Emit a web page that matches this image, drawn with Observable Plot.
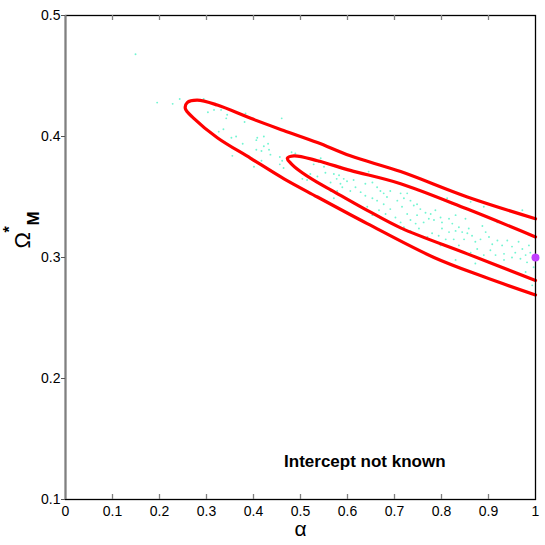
<!DOCTYPE html>
<html>
<head>
<meta charset="utf-8">
<script src="https://cdn.jsdelivr.net/npm/d3@7"></script>
<script src="https://cdn.jsdelivr.net/npm/@observablehq/plot@0.6"></script>
<style>
  html, body { margin: 0; padding: 0; background: #fff; }
</style>
</head>
<body>
<div id="chart"></div>
<script>
// Tick values
const xTicks = [0, 0.1, 0.2, 0.3, 0.4, 0.5, 0.6, 0.7, 0.8, 0.9, 1];
const yTicks = [0.1, 0.2, 0.3, 0.4, 0.5];

// Outer (95%) contour: upper edge from right, through the tip, lower edge to right
const outerAlpha = [1.0, 0.855, 0.713, 0.606, 0.536, 0.464, 0.394, 0.323, 0.280, 0.259, 0.255, 0.273, 0.323, 0.394, 0.465, 0.536, 0.642, 0.784, 0.890, 1.0];
const outerOmega = [0.332, 0.350, 0.371, 0.384, 0.395, 0.405, 0.415, 0.426, 0.430, 0.428, 0.423, 0.415, 0.399, 0.382, 0.365, 0.350, 0.328, 0.300, 0.284, 0.269];

// Inner (68%) contour
const innerAlpha = [1.0, 0.855, 0.713, 0.606, 0.536, 0.486, 0.472, 0.479, 0.500, 0.536, 0.571, 0.642, 0.713, 0.855, 1.0];
const innerOmega = [0.317, 0.340, 0.361, 0.372, 0.380, 0.384, 0.382, 0.378, 0.371, 0.362, 0.3545, 0.339, 0.3245, 0.303, 0.281];

// Fiducial model
const fiducialAlpha = [1.0];
const fiducialOmega = [0.3];

// Sampled points (alpha, Omega_M)
const samplePoints = [
  [0.149,0.468],[0.195,0.428],[0.228,0.427],[0.243,0.431],
  [0.294,0.431],[0.303,0.420],[0.316,0.422],[0.331,0.422],[0.344,0.418],[0.342,0.415],
  [0.383,0.419],[0.381,0.412],[0.460,0.415],[0.326,0.404],[0.336,0.406],[0.353,0.399],
  [0.363,0.400],[0.377,0.394],[0.408,0.399],[0.406,0.397],[0.422,0.400],[0.431,0.394],
  [0.422,0.392],[0.406,0.389],[0.417,0.388],[0.433,0.389],[0.436,0.385],[0.355,0.384],
  [0.396,0.382],[0.417,0.380],[0.456,0.383],[0.461,0.380],[0.481,0.387],[0.489,0.386],
  [0.456,0.377],[0.464,0.374],[0.401,0.375],
  [0.543,0.382],[0.528,0.377],[0.539,0.379],[0.550,0.375],[0.553,0.370],[0.571,0.369],
  [0.585,0.375],[0.582,0.368],[0.577,0.365],[0.564,0.362],[0.585,0.361],[0.592,0.365],
  [0.599,0.363],[0.613,0.364],[0.606,0.355],[0.617,0.358],[0.628,0.354],[0.638,0.361],
  [0.645,0.371],[0.653,0.362],[0.663,0.358],[0.670,0.355],[0.638,0.351],[0.653,0.349],
  [0.663,0.347],[0.677,0.353],[0.684,0.350],[0.691,0.355],[0.677,0.344],[0.667,0.339],
  [0.691,0.340],[0.706,0.347],[0.713,0.353],[0.720,0.349],[0.727,0.353],[0.734,0.347],
  [0.741,0.343],[0.716,0.342],[0.727,0.336],[0.734,0.331],[0.745,0.328],[0.748,0.335],
  [0.592,0.350],[0.571,0.349],[0.521,0.369],[0.514,0.364],[0.504,0.365],[0.536,0.367],
  [0.589,0.358],[0.578,0.355],[0.564,0.355],[0.642,0.342],[0.653,0.335],[0.702,0.333],
  [0.713,0.329],[0.720,0.325],[0.734,0.322],[0.681,0.336],
  [0.759,0.355],[0.748,0.344],[0.755,0.340],[0.766,0.337],[0.777,0.336],[0.787,0.339],
  [0.798,0.333],[0.773,0.332],[0.762,0.329],[0.784,0.331],[0.801,0.329],[0.816,0.332],
  [0.823,0.328],[0.837,0.325],[0.830,0.322],[0.844,0.321],[0.855,0.320],[0.858,0.324],
  [0.848,0.315],[0.865,0.318],[0.872,0.313],[0.883,0.315],[0.894,0.321],[0.901,0.317],
  [0.908,0.311],[0.919,0.314],[0.929,0.310],[0.940,0.314],[0.950,0.309],[0.957,0.304],
  [0.964,0.313],[0.972,0.307],[0.979,0.302],[0.986,0.310],[0.989,0.304],[0.982,0.296],
  [0.968,0.299],[0.950,0.300],[0.933,0.303],[0.915,0.302],[0.904,0.306],[0.890,0.302],
  [0.876,0.307],[0.862,0.304],[0.837,0.310],[0.826,0.315],[0.809,0.315],[0.794,0.318],
  [0.780,0.320],[0.770,0.317],[0.801,0.324],[0.816,0.321],[0.887,0.326],[0.851,0.332],
  [0.830,0.335],[0.812,0.349],[0.862,0.346],[0.890,0.342],[0.972,0.339],[0.919,0.329],
  [0.993,0.318],[0.979,0.288],[0.993,0.277],[0.996,0.292],[0.933,0.298],[0.872,0.295],
  [0.830,0.298],[0.752,0.324],[0.798,0.310]
];

// Annotation
const annotationText = ["Intercept not known"];
const annotationAlpha = [0.465];
const annotationOmega = [0.131];

const outer = outerAlpha.map((a, i) => ({alpha: a, omega: outerOmega[i]}));
const inner = innerAlpha.map((a, i) => ({alpha: a, omega: innerOmega[i]}));
const fiducial = fiducialAlpha.map((a, i) => ({alpha: a, omega: fiducialOmega[i]}));
const samples = samplePoints.map(([a, o]) => ({alpha: a, omega: o}));
const annotation = annotationText.map((t, i) => ({text: t, alpha: annotationAlpha[i], omega: annotationOmega[i]}));

const font = "'Liberation Sans Narrow', 'Liberation Sans', Arial, sans-serif";
const frameH = 545 - 15 - 46;

const chart = Plot.plot({
  width: 545,
  height: 545,
  marginLeft: 65,
  marginRight: 10,
  marginTop: 15,
  marginBottom: 46,
  style: {fontFamily: font, background: "#fff", color: "#000"},
  x: {domain: [0, 1]},
  y: {domain: [0.1, 0.5]},
  marks: [
    Plot.dot(samples, {x: "alpha", y: "omega", r: 0.95, fill: "#72f5d2", stroke: "none"}),
    Plot.line(outer, {x: "alpha", y: "omega", stroke: "#ff0000", strokeWidth: 3.2, curve: "catmull-rom", strokeLinejoin: "round"}),
    Plot.line(inner, {x: "alpha", y: "omega", stroke: "#ff0000", strokeWidth: 3.2, curve: "catmull-rom", strokeLinejoin: "round"}),
    Plot.frame({stroke: "#000", strokeWidth: 1.3}),
    Plot.ruleX([0], {stroke: "#808080", strokeWidth: 2}),
    Plot.tickX(xTicks.slice(1, -1), {x: d => d, insetTop: frameH - 5, stroke: "#808080", strokeWidth: 1.3}),
    Plot.tickX(xTicks.slice(1, -1), {x: d => d, insetBottom: frameH - 5, stroke: "#808080", strokeWidth: 1.3}),
    Plot.axisX({ticks: xTicks, tickSize: 0, tickPadding: 7, fontSize: 14, label: null, tickFormat: d3.format("~g")}),
    Plot.axisY({ticks: yTicks, tickSize: 4, tickPadding: 1, fontSize: 14, label: null, stroke: "#555", tickFormat: d3.format("~g")}),
    Plot.dot(fiducial, {x: "alpha", y: "omega", r: 4, fill: "#c040ff", stroke: "none", clip: false}),
    Plot.text(annotation, {x: "alpha", y: "omega", text: "text", textAnchor: "start", fontSize: 17, fontWeight: "bold", fill: "#000"}),
    Plot.text(["α"], {frameAnchor: "bottom", dy: 36, fontSize: 21, fill: "#000"}),
    Plot.text(["Ω"], {frameAnchor: "left", dx: -43, dy: -9, rotate: -90, fontSize: 22, fill: "#000"}),
    Plot.text(["M"], {frameAnchor: "left", dx: -32, dy: -32, rotate: -90, fontSize: 17, fontWeight: "bold", fill: "#000"}),
    Plot.text(["*"], {frameAnchor: "left", dx: -56, dy: -25, rotate: -90, fontSize: 16, fontWeight: "bold", fill: "#000"})
  ]
});
document.getElementById("chart").appendChild(chart);
</script>
</body>
</html>
